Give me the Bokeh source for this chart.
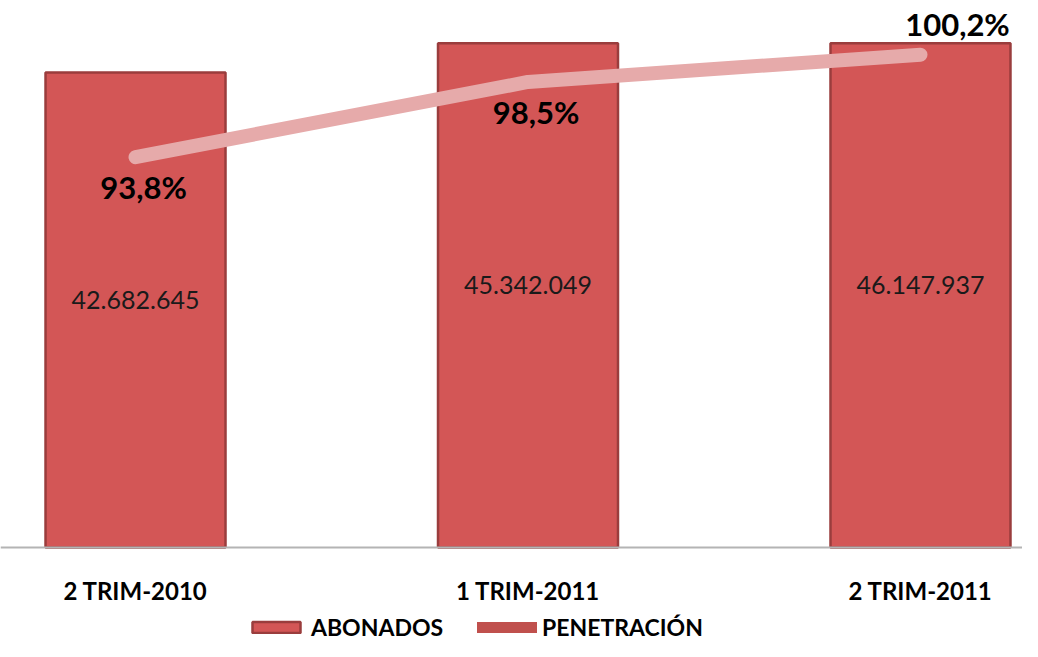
from bokeh.plotting import figure
from bokeh.models import (ColumnDataSource, Range1d, LabelSet, Span,
                          Legend, LegendItem)
from bokeh.core.properties import value
from bokeh.embed import file_html
from bokeh.resources import INLINE

# ---- data ----
categories = ["2 TRIM-2010", "1 TRIM-2011", "2 TRIM-2011"]
abonados = [42682645, 45342049, 46147937]
penetracion = [93.8, 98.5, 100.2]
AXIS_MAX = 45.3e6  # maximum of the chart's value axis (bars are cut there)

# ---- styles / layout ----
FONT = "Lato"
BAR_FILL = "#D35656"
BAR_LINE = "#9A3D3D"
LINE_COLOR = "#E6AAAA"
LEGEND_LINE = "#C0504D"

xs = list(range(len(categories)))
shown = [min(v, AXIS_MAX) for v in abonados]
ab_txt = [f"{v:,}".replace(",", ".") for v in abonados]
pen_txt = [f"{v:.1f}%".replace(".", ",") for v in penetracion]
src = ColumnDataSource(dict(
    x=xs, ab=shown, ab_mid=[v * 0.52 for v in shown],
    ab_txt=ab_txt, pen=penetracion, pen_txt=pen_txt,
    zero=[0] * len(xs), cat=categories,
))

p = figure(width=1022, height=641, output_backend="svg", toolbar_location=None,
           x_range=Range1d(-0.344, 2.2599), y_range=Range1d(-8.446e6, 49.15e6),
           x_axis_location=None, y_axis_location=None,
           min_border_left=0, min_border_right=0,
           min_border_top=0, min_border_bottom=0)
p.extra_y_ranges = {"pct": Range1d(63.525, 103.59)}
p.outline_line_color = None
p.xgrid.visible = False
p.ygrid.visible = False
p.background_fill_color = "white"

bars = p.vbar(x="x", top="ab", width=0.4586, source=src,
              fill_color=BAR_FILL, line_color=BAR_LINE, line_width=2.5)

# baseline (category axis line)
p.add_layout(Span(location=0, dimension="width", line_color="#B4B4B4",
                  line_width=2))

p.add_layout(LabelSet(x="x", y="ab_mid", text="ab_txt", source=src,
                      text_align="center", text_baseline="middle",
                      text_font=value(FONT), text_font_size="25px",
                      text_color="#1a1a1a"))

pen_line = p.line(x="x", y="pen", source=src, y_range_name="pct",
                  line_color=LINE_COLOR, line_width=14, line_cap="round",
                  line_join="round")
leg_line = p.line(x=[float("nan")] * 2, y=[float("nan")] * 2,
                  line_color=LEGEND_LINE, line_width=11, line_cap="round")

lab_low = LabelSet(x="x", y="pen", text="pen_txt", y_range_name="pct",
                   source=ColumnDataSource(dict(x=xs[:2], pen=penetracion[:2],
                                                pen_txt=pen_txt[:2])),
                   x_offset=8, y_offset=-30, text_align="center",
                   text_baseline="middle", text_font=value(FONT),
                   text_font_size="31px", text_font_style="bold",
                   text_color="black")
lab_hi = LabelSet(x="x", y="pen", text="pen_txt", y_range_name="pct",
                  source=ColumnDataSource(dict(x=xs[2:], pen=penetracion[2:],
                                               pen_txt=pen_txt[2:])),
                  x_offset=37, y_offset=31, text_align="center",
                  text_baseline="middle", text_font=value(FONT),
                  text_font_size="31px", text_font_style="bold",
                  text_color="black")
p.add_layout(lab_low)
p.add_layout(lab_hi)

# category labels
p.add_layout(LabelSet(x="x", y="zero", text="cat", source=src,
                      y_offset=-43, text_align="center", text_baseline="middle",
                      text_font=value(FONT), text_font_size="24px",
                      text_font_style="bold", text_color="black"))

legend = Legend(items=[LegendItem(label="ABONADOS", renderers=[bars]),
                       LegendItem(label="PENETRACIÓN", renderers=[leg_line])],
                orientation="horizontal", location=(246, 0),
                glyph_width=60, glyph_height=14, label_standoff=5, spacing=34,
                label_text_font=FONT, label_text_font_size="23px",
                label_text_font_style="bold", label_text_color="black",
                label_text_baseline="middle",
                border_line_color=None, background_fill_alpha=0,
                padding=0, margin=0, label_height=20)
p.add_layout(legend, "center")

open("out.html", "w").write(file_html(p, INLINE))
